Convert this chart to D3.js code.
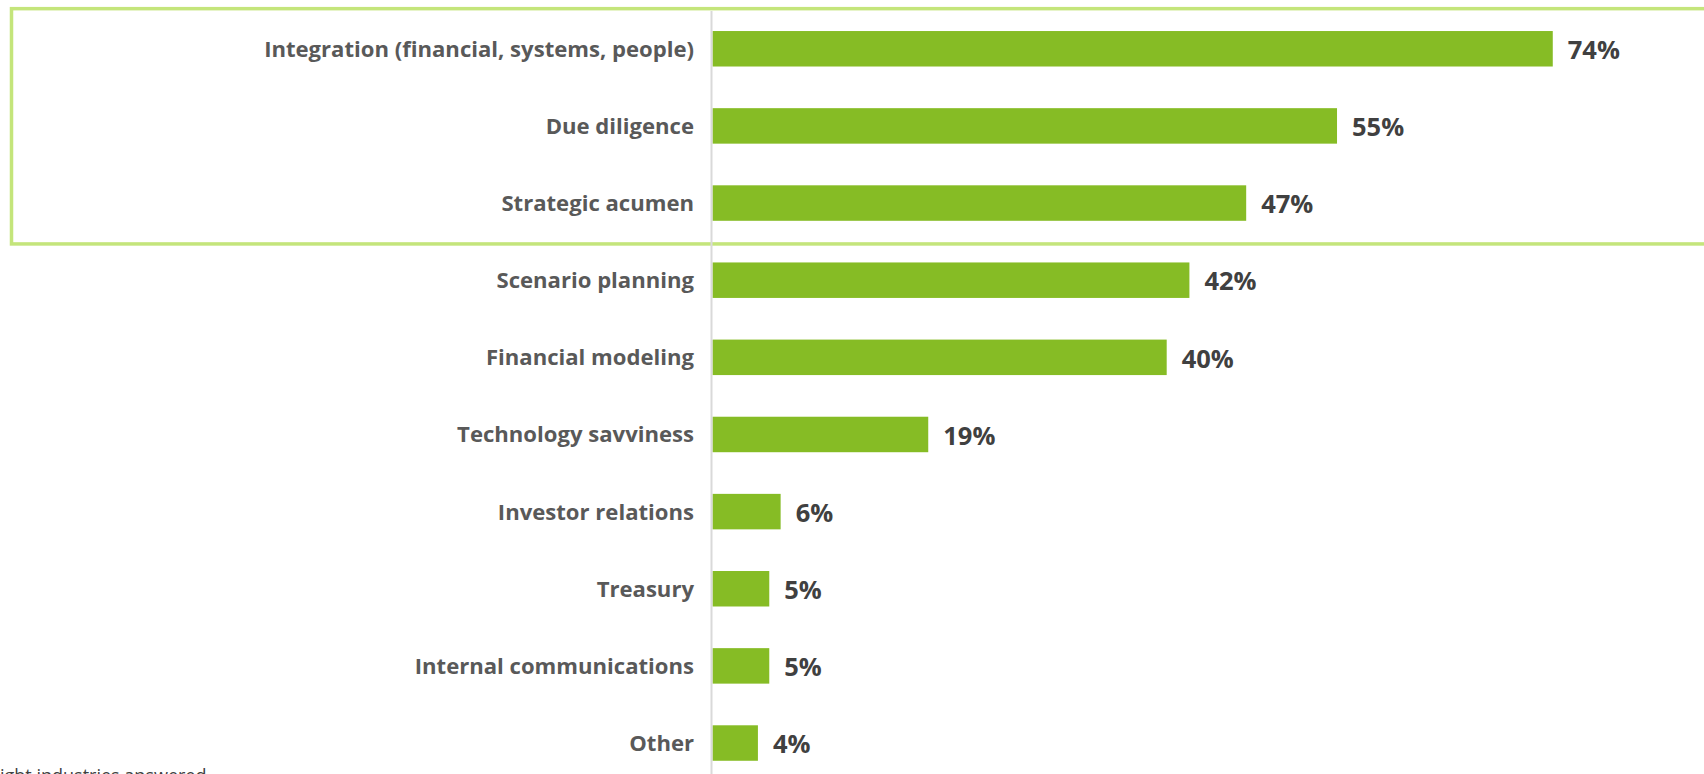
<!DOCTYPE html>
<html>
<head>
<meta charset="utf-8">
<script src="https://cdn.jsdelivr.net/npm/d3@7/dist/d3.min.js"></script>
<style>
  html, body { margin: 0; padding: 0; background: #ffffff; overflow: hidden; }
  svg { display: block; }
</style>
</head>
<body>
<script>
// Skills categories and share of respondents (%)
const categories = [
  "Integration (financial, systems, people)",
  "Due diligence",
  "Strategic acumen",
  "Scenario planning",
  "Financial modeling",
  "Technology savviness",
  "Investor relations",
  "Treasury",
  "Internal communications",
  "Other"
];
const values = [74, 55, 47, 42, 40, 19, 6, 5, 5, 4];
const valueLabels = ["74%", "55%", "47%", "42%", "40%", "19%", "6%", "5%", "5%", "4%"];
const highlighted = ["Integration (financial, systems, people)", "Due diligence", "Strategic acumen"];
const footnote = "ight industries answered";

const W = 1704, H = 774;
const svg = d3.select("body").append("svg").attr("width", W).attr("height", H);

const x = d3.scaleLinear().domain([0, 100]).range([712.5, 1848]);
const y = d3.scaleBand().domain(categories).range([10.2, 781.6])
  .paddingInner(0.54).paddingOuter(0.27);

// Highlight frame around the top three categories (open on the right)
const hiTop = y(highlighted[0]) - y.step() * 0.29;
const hiBot = y(highlighted[highlighted.length - 1]) + y.bandwidth() + y.step() * 0.30;
svg.append("rect")
  .attr("x", 11.5).attr("y", hiTop)
  .attr("width", W + 50).attr("height", hiBot - hiTop)
  .attr("fill", "none").attr("stroke", "#c4e57b").attr("stroke-width", 3.5);

// Bars
svg.append("g").selectAll("rect")
  .data(categories)
  .join("rect")
  .attr("x", x(0))
  .attr("y", d => y(d))
  .attr("width", (d, i) => x(values[i]) - x(0))
  .attr("height", y.bandwidth())
  .attr("fill", "#86bc25");

// Category axis (line only, labels drawn to the left)
const axis = d3.axisLeft(y).tickSize(0).tickPadding(18);
const gAxis = svg.append("g").attr("transform", `translate(${x(0) - 0.5},0)`).call(axis);
gAxis.select(".domain").remove();
gAxis.selectAll("text")
  .attr("fill", "#595959")
  .style("font-family", "'Open Sans', sans-serif")
  .style("font-weight", "bold")
  .style("font-size", "22.1px")
  .attr("dy", "0.36em");

svg.append("line")
  .attr("x1", x(0) - 1).attr("x2", x(0) - 1)
  .attr("y1", 11).attr("y2", H)
  .attr("stroke", "#d9d9d9").attr("stroke-width", 2);

// Value labels
svg.append("g").selectAll("text")
  .data(categories)
  .join("text")
  .attr("x", (d, i) => x(values[i]) + 15)
  .attr("y", d => y(d) + y.bandwidth() / 2)
  .attr("dy", "0.4em")
  .attr("fill", "#404040")
  .style("font-family", "'Open Sans', sans-serif")
  .style("font-weight", "bold")
  .style("font-size", "25.5px")
  .text((d, i) => valueLabels[i]);

// Footnote (runs past the bottom and left edges)
svg.append("text")
  .attr("x", 0).attr("y", 782)
  .attr("fill", "#404040")
  .style("font-family", "'Open Sans', sans-serif")
  .style("font-size", "18px")
  .text(footnote);
</script>
</body>
</html>
